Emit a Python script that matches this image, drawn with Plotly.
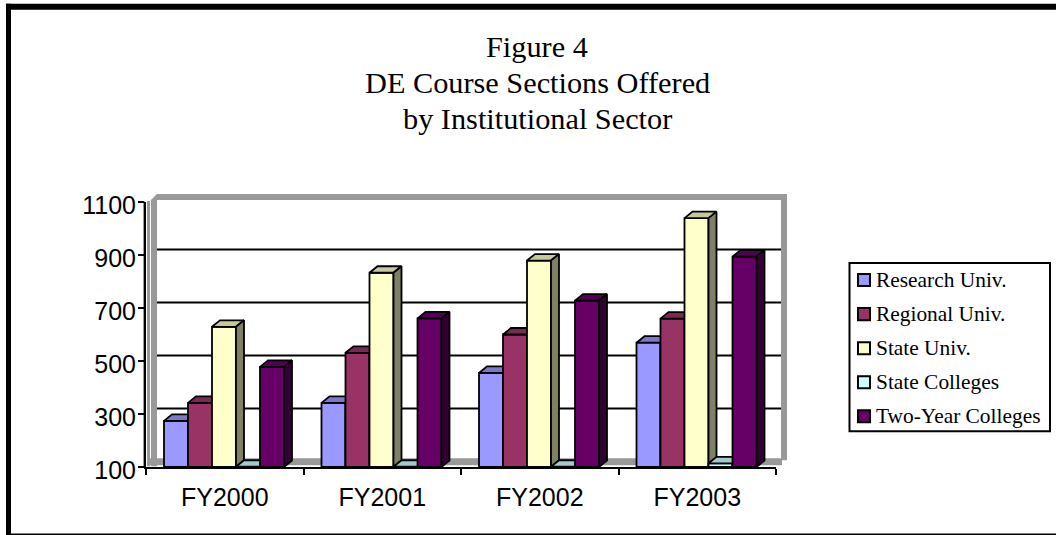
import plotly.graph_objects as go

categories = ["FY2000", "FY2001", "FY2002", "FY2003"]
series_names = ["Research Univ.", "Regional Univ.", "State Univ.", "State Colleges", "Two-Year Colleges"]
research_univ = [274, 342, 455, 569]
regional_univ = [342, 531, 600, 660]
state_univ = [629, 833, 879, 1039]
state_colleges = [101, 101, 101, 114]
two_year_colleges = [478, 661, 728, 894]
y_ticks = [100, 300, 500, 700, 900, 1100]
grid_values = [300, 500, 700, 900]
title_lines = ["Figure 4", "DE Course Sections Offered", "by Institutional Sector"]

series_values = [research_univ, regional_univ, state_univ, state_colleges, two_year_colleges]
front_colors = ["#9999ff", "#993366", "#ffffcc", "#ccffff", "#660066"]
top_colors = ["#7a7ac8", "#7a2952", "#c8c8a0", "#a0cccc", "#520052"]
side_colors = ["#5c5c99", "#5c1f3d", "#808066", "#7a9999", "#330033"]

W, H = 1056, 535
L, R, T, B = 146.0, 776.0, 202.0, 466.7
plot_w, plot_h = R - L, B - T
px_x = 4 / plot_w            # data units per pixel, x
px_y = 1000 / plot_h         # data units per pixel, y
DX, DY = 8 * px_x, 6.5 * px_y
bar_w = 24 * px_x
start = 18 * px_x


def pxp(x):
    return (x - L) / plot_w


def pyp(y):
    return (B - y) / plot_h


fig = go.Figure()

# base subplot only carries the axes
fig.add_trace(go.Scatter(x=[0, 4], y=[100, 100], mode="lines", line=dict(width=0),
                         hoverinfo="skip", showlegend=False))

for i, (name, vals) in enumerate(zip(series_names, series_values)):
    ax = i + 2
    xs = [c + start + i * bar_w for c in range(len(categories))]
    fig.add_trace(go.Bar(x=xs, y=[v - 100 for v in vals], base=100, width=bar_w, offset=0,
                         name=name, marker=dict(color=front_colors[i], line=dict(color="black", width=1.8)),
                         showlegend=False, cliponaxis=False, xaxis=f"x{ax}", yaxis=f"y{ax}"))
    for x0, v in zip(xs, vals):
        x1 = x0 + bar_w
        fig.add_trace(go.Scatter(
            x=[x0, x0 + DX, x1 + DX, x1, x0], y=[v, v + DY, v + DY, v, v],
            mode="lines", fill="toself", fillcolor=top_colors[i],
            line=dict(color="black", width=1.8), cliponaxis=False,
            hoverinfo="skip", showlegend=False, xaxis=f"x{ax}", yaxis=f"y{ax}"))
        fig.add_trace(go.Scatter(
            x=[x1, x1 + DX, x1 + DX, x1, x1], y=[v, v + DY, 100 + DY, 100, v],
            mode="lines", fill="toself", fillcolor=side_colors[i],
            line=dict(color="black", width=1.8), cliponaxis=False,
            hoverinfo="skip", showlegend=False, xaxis=f"x{ax}", yaxis=f"y{ax}"))

shapes = []
GREY = "#999999"


def rect(x0, y0, x1, y1, fill, line=None, lw=0, layer="below"):
    shapes.append(dict(type="rect", xref="paper", yref="paper", x0=pxp(x0), x1=pxp(x1),
                       y0=pyp(y0), y1=pyp(y1), fillcolor=fill, layer=layer,
                       line=dict(color=line or fill, width=lw)))


# outer frame
rect(6, 4, 1056, 10, "black")
rect(6, 4, 11, 535, "black")
rect(6, 533, 1056, 535, "black")
# chart walls
rect(147, 458, 782, 465, GREY)
rect(143, 201, 145, 466, GREY)
rect(147, 201, 150, 466, GREY)
rect(781, 194, 787, 460, GREY)
corner = [(151, 466), (151, 200), (157, 194), (787, 194), (787, 200), (157, 200), (157, 466)]
path = "M " + " L ".join(f"{pxp(a):.5f},{pyp(b):.5f}" for a, b in corner) + " Z"
shapes.append(dict(type="path", xref="paper", yref="paper", path=path, fillcolor=GREY,
                   layer="below", line=dict(color=GREY, width=0)))
for g in grid_values:
    yy = (g - 100) / 1000 + 5.5 / plot_h
    shapes.append(dict(type="line", xref="paper", yref="paper", x0=pxp(157), x1=pxp(781),
                       y0=yy, y1=yy, layer="below", line=dict(color="black", width=2)))

annotations = []
# title
for n, line in enumerate(title_lines):
    annotations.append(dict(text=line, xref="paper", yref="paper", x=pxp(537), y=pyp(47 + n * 36),
                            xanchor="center", yanchor="middle", showarrow=False,
                            font=dict(family="Liberation Serif", size=30.3, color="black")))

# legend
rect(849.5, 263, 1050, 431, "white", "black", 2, layer="above")
for i, name in enumerate(series_names):
    cy = 280 + i * 34
    rect(858, cy - 6, 870, cy + 6, front_colors[i], "black", 2, layer="above")
    annotations.append(dict(text=name, xref="paper", yref="paper", x=pxp(876), y=pyp(cy),
                            xanchor="left", yanchor="middle", showarrow=False, xshift=-2.5,
                            font=dict(family="Liberation Serif", size=21.4, color="black")))

layout = dict(
    width=W, height=H, autosize=False,
    paper_bgcolor="white", plot_bgcolor="rgba(0,0,0,0)",
    margin=dict(l=L, r=W - R, t=T, b=H - B),
    showlegend=False, shapes=shapes, annotations=annotations,
    xaxis=dict(range=[0, 4], tickvals=[0.5, 1.5, 2.5, 3.5], ticktext=categories, ticks="",
               showgrid=False, zeroline=False, showline=True, linecolor="black", linewidth=2,
               tickfont=dict(family="Liberation Sans", size=25, color="black"), ticklabelstandoff=7,
               minor=dict(tickvals=[0, 1, 2, 3, 4], ticks="outside", ticklen=6, tickcolor="black", tickwidth=2)),
    yaxis=dict(range=[100, 1100], tickvals=y_ticks, ticks="outside", ticklen=6, tickcolor="black", tickwidth=2,
               showgrid=False, zeroline=False, showline=True, linecolor="black", linewidth=2,
               ticklabelstandoff=-3, ticklabelshift=3,
               tickfont=dict(family="Liberation Sans", size=25, color="black")),
)
for i in range(5):
    ax = i + 2
    layout[f"xaxis{ax}"] = dict(range=[0, 4], overlaying="x", visible=False)
    layout[f"yaxis{ax}"] = dict(range=[100, 1100], overlaying="y", visible=False)
fig.update_layout(**layout)
fig.write_html("out.html", config=dict(displayModeBar=False),
               post_script="document.body.style.margin='0';document.documentElement.style.overflow='hidden';")
